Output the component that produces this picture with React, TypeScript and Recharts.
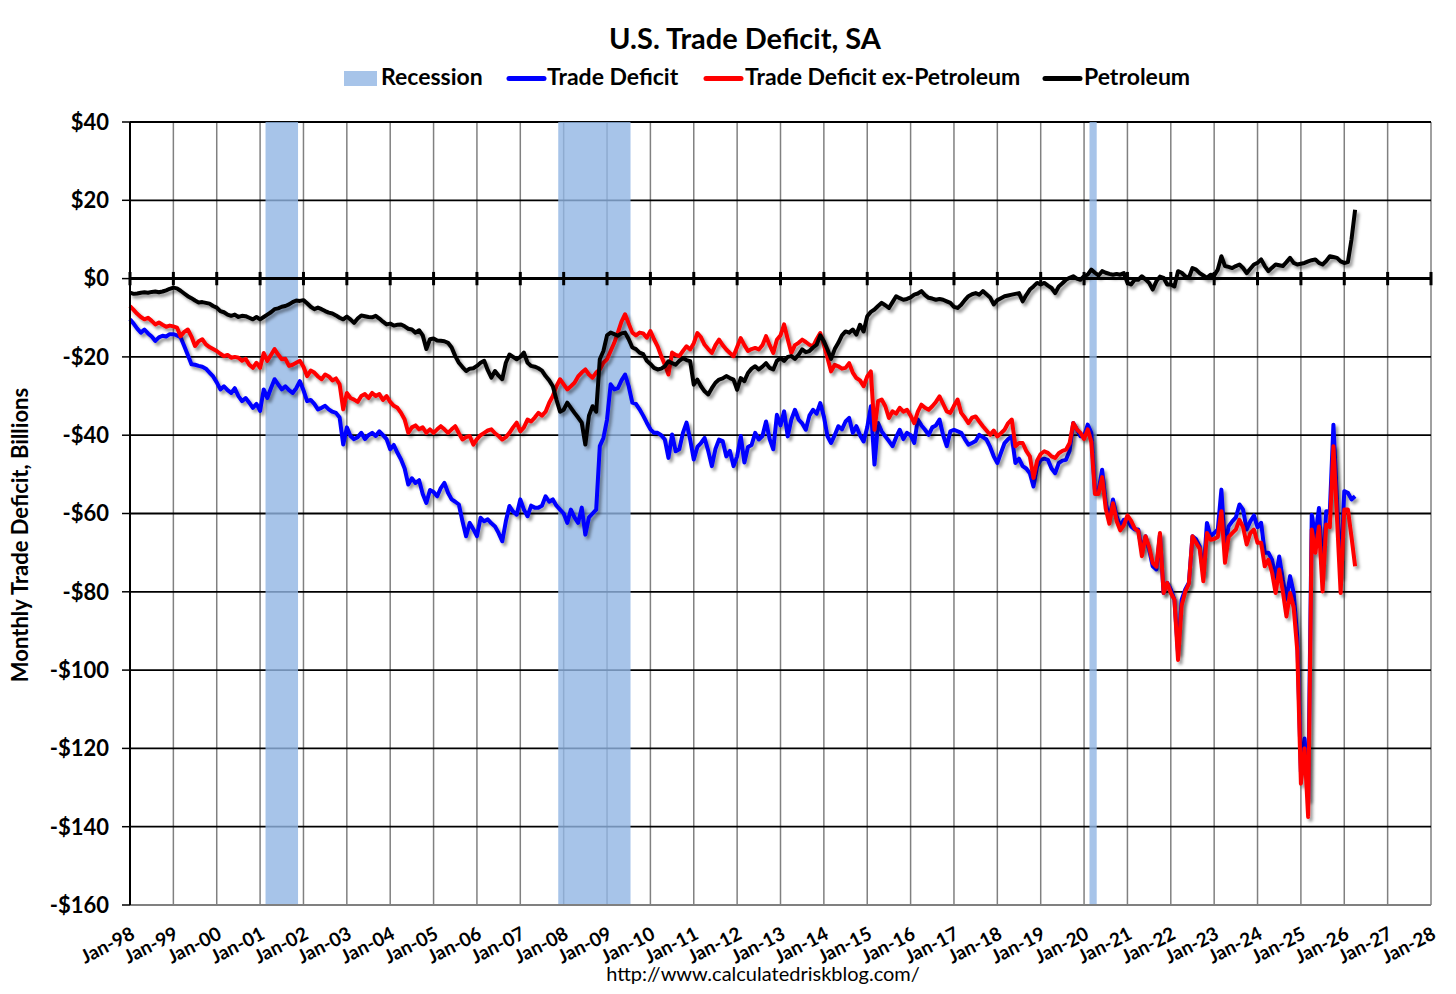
import React from "react";
import {
  CartesianGrid,
  Line,
  LineChart,
  ReferenceArea,
  ReferenceLine,
  XAxis,
  YAxis,
} from "recharts";

const FONT = 'Lato, "Open Sans", sans-serif';

// x axis: one tick per January, month index 0 = Jan-98
const xTickLabels = [
  "Jan-98", "Jan-99", "Jan-00", "Jan-01", "Jan-02", "Jan-03", "Jan-04", "Jan-05",
  "Jan-06", "Jan-07", "Jan-08", "Jan-09", "Jan-10", "Jan-11", "Jan-12", "Jan-13",
  "Jan-14", "Jan-15", "Jan-16", "Jan-17", "Jan-18", "Jan-19", "Jan-20", "Jan-21",
  "Jan-22", "Jan-23", "Jan-24", "Jan-25", "Jan-26", "Jan-27", "Jan-28",
];

const yTicks = [-160, -140, -120, -100, -80, -60, -40, -20, 0, 20, 40];

// recession periods in month index (band covers whole months)
const recessions = [
  { start: 37.5, end: 46.5 }, // Mar-01 .. Nov-01
  { start: 118.5, end: 138.5 }, // Dec-07 .. Jul-09
  { start: 265.5, end: 267.5 }, // Mar-20 .. Apr-20
];

// monthly values, $ billions, one row per year (Jan..Dec)
const tradeDeficit = [
  -10.4, -11.5, -12.8, -13.8, -13.0, -14.0, -14.8, -15.9, -15.0, -14.6, -14.8, -14.2,
  -14.2, -14.5, -15.0, -17.2, -19.5, -21.9, -22.0, -22.3, -22.5, -23.0, -24.0, -25.0,
  -26.5, -28.3, -27.5, -28.5, -29.2, -28.0, -30.0, -31.3, -30.5, -31.7, -33.0, -32.0,
  -33.8, -28.3, -30.5, -28.0, -25.7, -27.0, -28.3, -27.5, -28.5, -29.2, -28.0, -26.2,
  -28.5, -31.3, -31.0, -32.0, -33.4, -33.0, -32.5, -33.4, -34.0, -34.3, -35.5, -42.4,
  -38.0, -40.2, -41.0, -40.5, -39.4, -41.0, -40.0, -39.4, -40.2, -39.0, -40.0, -41.0,
  -43.6, -42.5, -44.5, -46.2, -48.5, -52.6, -51.0, -52.2, -51.5, -55.0, -57.3, -54.0,
  -54.5, -55.6, -53.5, -52.2, -54.7, -56.4, -57.0, -57.7, -62.0, -65.8, -62.4, -64.0,
  -65.8, -61.1, -62.0, -61.5, -62.5, -63.3, -65.0, -67.1, -62.0, -58.1, -59.5, -60.3,
  -56.4, -59.0, -60.7, -58.0, -58.5, -58.5, -58.0, -55.6, -57.0, -56.4, -58.0, -59.0,
  -60.0, -62.4, -59.0, -61.0, -62.4, -58.5, -65.4, -61.0, -60.0, -59.0, -42.8, -40.7,
  -36.0, -27.0, -28.3, -28.0, -26.0, -24.5, -27.5, -31.7, -32.0, -33.4, -35.0, -36.8,
  -38.5, -39.4, -39.4, -40.0, -41.1, -45.8, -39.8, -44.1, -43.6, -39.4, -36.8, -41.1,
  -46.2, -43.0, -42.0, -40.7, -44.0, -47.9, -43.5, -41.1, -41.5, -45.4, -44.0, -47.9,
  -45.4, -40.2, -47.0, -43.0, -42.5, -39.4, -41.1, -40.2, -36.5, -41.0, -43.6, -34.8,
  -37.5, -33.9, -40.3, -36.0, -33.5, -36.0, -37.0, -38.6, -35.0, -33.5, -34.5, -31.8,
  -35.2, -40.3, -42.0, -40.0, -37.7, -38.5, -36.5, -35.6, -39.4, -37.7, -40.0, -41.6,
  -38.0, -32.6, -47.5, -36.9, -39.0, -40.3, -41.5, -42.8, -40.5, -38.6, -41.0, -39.4,
  -40.0, -42.0, -36.0, -37.5, -38.6, -39.9, -38.0, -37.5, -36.0, -40.0, -42.8, -39.0,
  -38.6, -39.0, -39.4, -41.0, -42.4, -42.0, -41.5, -39.9, -40.5, -41.1, -43.0, -45.4,
  -47.1, -44.5, -42.0, -41.0, -40.3, -47.1, -46.0, -47.9, -48.5, -49.7, -53.1, -48.0,
  -46.3, -46.0, -46.3, -48.5, -49.7, -47.1, -46.5, -46.3, -44.0, -36.9, -38.5, -40.3,
  -40.3, -37.3, -39.4, -53.9, -54.3, -48.8, -57.3, -61.6, -56.4, -60.7, -63.3, -61.6,
  -61.6, -63.3, -64.1, -64.1, -69.5, -65.8, -69.2, -73.5, -74.3, -65.4, -80.3, -77.7,
  -79.4, -82.0, -95.5, -82.0, -79.4, -77.7, -65.8, -66.6, -68.4, -75.5, -62.4, -65.8,
  -65.0, -64.1, -53.9, -68.4, -63.3, -62.0, -61.0, -57.7, -59.0, -64.1, -62.0, -60.5,
  -63.5, -62.4, -70.0, -70.0, -71.8, -76.5, -71.0, -76.9, -82.0, -76.0, -80.3, -91.5,
  -126.0, -117.5, -133.0, -60.3, -66.0, -58.6, -76.0, -59.4, -59.5, -37.3, -57.0, -76.0,
  -54.3, -54.7, -56.4, -55.6,
];

const exPetroleum = [
  -7.0, -8.0, -9.0, -9.8, -10.4, -10.0, -10.8, -11.7, -11.2, -11.8, -12.3, -12.0,
  -12.2, -12.5, -14.7, -13.6, -13.0, -14.8, -17.2, -16.0, -15.5, -16.8, -17.5, -18.0,
  -18.5, -19.2, -19.8, -19.5, -20.2, -20.0, -20.2, -21.0, -20.5, -22.0, -22.8, -21.5,
  -22.8, -19.0, -21.0, -19.5, -18.0, -19.4, -20.6, -20.5, -22.3, -22.0, -21.5, -21.0,
  -22.5, -24.9, -23.5, -24.0, -25.0, -25.7, -24.5, -25.0, -26.0, -25.5, -27.0, -33.4,
  -29.2, -30.5, -30.9, -31.5, -30.0, -29.5, -30.5, -29.2, -30.0, -29.5, -31.0, -30.0,
  -31.5, -32.5, -33.0, -34.3, -36.0, -39.4, -38.0, -37.5, -38.5, -38.0, -39.4, -38.5,
  -39.4, -38.5, -37.7, -38.5, -39.4, -38.5, -37.7, -39.5, -41.1, -40.5, -40.2, -42.4,
  -41.0, -40.0, -39.4, -38.8, -38.5, -39.5, -40.2, -41.1, -40.5, -39.4, -38.0, -36.8,
  -39.0, -38.0, -36.0, -36.5, -35.5, -34.3, -35.0, -34.0, -31.7, -30.0, -27.5, -25.7,
  -27.0, -28.3, -27.5, -26.6, -25.0, -24.0, -23.2, -24.5, -25.3, -24.0, -23.2, -21.5,
  -20.6, -18.5, -16.4, -13.8, -11.0, -9.1, -11.5, -13.8, -14.5, -13.8, -14.0, -15.1,
  -13.4, -15.5, -17.3, -19.8, -22.0, -24.5, -18.9, -19.5, -19.8, -18.5, -17.3, -18.1,
  -16.5, -13.9, -15.0, -16.9, -18.0, -19.0, -17.0, -15.6, -17.0, -18.1, -19.0, -19.8,
  -17.5, -15.2, -17.0, -18.5, -18.0, -17.7, -18.1, -17.0, -14.7, -17.0, -19.0, -15.6,
  -14.5, -11.7, -15.5, -19.0, -17.0, -16.4, -15.6, -16.2, -16.9, -17.3, -15.5, -13.9,
  -16.9, -20.3, -23.7, -22.0, -22.4, -23.0, -22.8, -21.6, -24.0, -25.4, -26.0, -27.5,
  -25.0, -23.7, -38.6, -31.3, -30.9, -32.6, -35.6, -33.9, -34.5, -33.0, -34.0, -33.5,
  -35.0, -36.9, -34.0, -32.2, -33.0, -33.5, -32.6, -31.5, -30.1, -32.0, -33.9, -34.3,
  -32.5, -30.9, -34.3, -35.5, -36.9, -35.5, -35.2, -36.5, -37.7, -38.8, -39.9, -38.8,
  -40.3, -39.5, -38.6, -36.9, -36.0, -42.8, -42.0, -42.0, -44.0, -45.4, -50.9, -46.5,
  -44.8, -44.1, -44.5, -45.4, -45.8, -44.6, -44.0, -43.7, -42.0, -36.9, -38.5, -39.4,
  -41.0, -38.5, -41.7, -55.0, -55.0, -50.7, -58.8, -62.6, -57.4, -61.9, -64.3, -63.0,
  -60.5, -61.8, -63.8, -64.5, -70.9, -65.8, -68.5, -72.6, -73.6, -65.0, -80.3, -77.7,
  -80.3, -82.0, -97.4, -83.5, -80.0, -77.9, -65.8, -67.5, -69.0, -77.3, -65.0, -66.7,
  -66.5, -66.0, -59.4, -72.6, -66.0, -65.0, -64.1, -61.6, -63.5, -67.9, -65.0, -64.1,
  -67.5, -67.5, -73.5, -71.8, -75.0, -80.3, -74.3, -80.0, -86.3, -80.3, -84.0, -95.0,
  -129.0, -120.0, -137.5, -64.1, -70.0, -63.3, -79.9, -62.8, -63.5, -42.8, -61.5, -80.3,
  -59.0, -59.0, -66.0, -73.5,
];

const petroleum = [
  -3.6, -3.9, -3.8, -3.6, -3.5, -3.6, -3.4, -3.3, -3.5, -3.3, -3.0, -2.6,
  -2.3, -2.5, -3.1, -3.8, -4.5, -5.0, -5.6, -6.1, -6.0, -6.2, -6.4, -7.0,
  -7.4, -8.3, -8.6, -9.2, -9.5, -9.2, -9.8, -9.5, -9.6, -10.0, -10.4, -9.8,
  -10.4, -9.8, -9.2, -8.6, -7.8, -7.6, -7.2, -7.0, -6.6, -6.0, -5.6, -5.7,
  -5.5, -6.3, -7.2, -7.8, -7.4, -7.8, -8.3, -8.7, -8.9, -9.4, -10.0, -10.4,
  -9.7, -10.4, -11.3, -10.2, -9.4, -9.6, -9.8, -9.9, -9.5, -10.2, -11.0, -11.7,
  -11.5, -12.0, -11.8, -11.7, -12.2, -12.8, -13.0, -13.8, -13.2, -14.5, -18.0, -15.5,
  -15.3, -15.8, -15.9, -16.0, -16.4, -17.6, -19.8, -21.5, -22.6, -23.6, -23.0, -22.9,
  -22.3, -21.5, -21.0, -23.4, -25.3, -23.6, -24.8, -25.7, -21.5, -19.4, -20.0, -20.6,
  -20.0, -18.9, -21.5, -22.3, -22.5, -22.9, -23.5, -24.9, -26.0, -27.5, -30.9, -34.0,
  -33.5, -31.7, -33.0, -34.3, -35.5, -36.8, -42.4, -35.0, -32.6, -34.0, -20.6, -18.5,
  -14.5, -13.8, -14.2, -14.6, -14.0, -13.8, -15.5, -17.6, -18.0, -18.9, -19.3, -21.0,
  -21.8, -22.8, -23.2, -23.0, -22.4, -21.1, -21.6, -22.0, -21.0, -20.3, -20.8, -21.1,
  -27.1, -25.8, -27.5, -28.8, -29.6, -28.0, -26.6, -25.8, -25.5, -24.9, -25.4, -25.8,
  -28.4, -25.4, -26.2, -24.1, -23.0, -22.4, -23.2, -22.5, -21.6, -22.8, -23.2, -21.0,
  -20.3, -21.0, -20.0, -19.8, -20.5, -19.5, -18.1, -18.8, -18.5, -17.6, -16.9, -14.5,
  -16.0, -18.1, -20.5, -18.0, -16.4, -14.5, -13.5, -13.8, -13.0, -14.3, -11.8, -13.5,
  -9.6, -8.5, -7.9, -7.0, -6.2, -6.8, -7.5, -6.0, -4.5, -5.0, -5.4, -5.2,
  -4.8, -4.1, -3.8, -3.2, -4.2, -4.9, -5.1, -5.4, -5.2, -5.4, -5.8, -6.2,
  -7.2, -7.5, -6.7, -5.5, -4.5, -4.0, -3.7, -4.1, -3.2, -4.0, -4.8, -6.6,
  -5.5, -5.0, -4.5, -4.3, -4.1, -3.9, -3.7, -5.8, -4.2, -2.8, -2.0, -1.1,
  -1.5, -1.1, -1.8, -2.4, -3.7, -2.0, -1.2, -0.3, 0.2, 0.6, 0.0, -0.3,
  0.6, 1.0, 2.3, 1.5, 0.8, 1.9, 1.5, 1.2, 1.0, 1.2, 1.0, 1.4,
  -1.1, -1.5, -0.3, -0.3, 0.6, -0.2, -1.1, -2.8, -0.7, 0.5, 0.2, -1.5,
  -1.5, -2.0, 1.9, 1.5, 0.6, 0.2, 2.7, 2.3, 1.4, 0.8, 0.2, 1.0,
  0.8, 2.3, 5.7, 3.2, 3.0, 2.7, 3.2, 3.6, 2.7, 1.4, 2.5, 3.6,
  4.0, 4.9, 3.2, 1.9, 2.8, 3.6, 3.4, 3.2, 4.2, 5.3, 4.0, 3.6,
  3.8, 4.0, 4.4, 4.7, 4.9, 4.0, 3.6, 4.5, 5.7, 5.5, 5.3, 4.4,
  4.0, 4.2, 10.0, 17.6,
];

const series = [
  { key: "trade", name: "Trade Deficit", color: "#0000FF" },
  { key: "exPet", name: "Trade Deficit ex-Petroleum", color: "#FF0000" },
  { key: "pet", name: "Petroleum", color: "#000000" },
];

const data = tradeDeficit.map((v, i) => ({
  m: i,
  trade: v,
  exPet: exPetroleum[i],
  pet: petroleum[i],
}));

const xTicks = xTickLabels.map((_, i) => i * 12);

const formatDollar = (v: number) => (v < 0 ? `-$${-v}` : `$${v}`);

const XTick = ({ x, y, payload }: any) => {
  const label = xTickLabels[Math.round(payload.value / 12)];
  const ax = x + 6;
  const ay = y + 25;
  return (
    <text
      x={ax}
      y={ay}
      transform={`rotate(-27 ${ax} ${ay})`}
      textAnchor="end"
      fontFamily={FONT}
      fontSize={19}
      fontWeight={700}
      fill="#000"
    >
      {label}
    </text>
  );
};

// legend layout (x of swatch start, x of text start)
const legendLayout = [
  { swatch: 344, text: 381 },
  { swatch: 509, text: 547 },
  { swatch: 706, text: 745 },
  { swatch: 1045, text: 1084 },
];

const Overlay = () => (
  <svg
    width={1456}
    height={994}
    style={{ position: "absolute", left: 0, top: 0, pointerEvents: "none" }}
  >
    <text x={745} y={49} textAnchor="middle" fontFamily={FONT} fontSize={29} fontWeight={700}>
      U.S. Trade Deficit, SA
    </text>

    <rect x={legendLayout[0].swatch} y={71} width={33} height={15} fill="#A7C4E9" />
    <text x={legendLayout[0].text} y={85} fontFamily={FONT} fontSize={23} fontWeight={700}>
      Recession
    </text>
    {series.map((s, i) => {
      const pos = legendLayout[i + 1];
      return (
        <g key={s.key}>
          <line
            x1={pos.swatch}
            x2={pos.swatch + 35}
            y1={78.5}
            y2={78.5}
            stroke={s.color}
            strokeWidth={5}
            strokeLinecap="round"
          />
          <text x={pos.text} y={85} fontFamily={FONT} fontSize={23} fontWeight={700}>
            {s.name}
          </text>
        </g>
      );
    })}

    <text
      transform="translate(28 535) rotate(-90)"
      textAnchor="middle"
      fontFamily={FONT}
      fontSize={22}
      fontWeight={700}
    >
      Monthly Trade Deficit, Billions
    </text>

    <text x={763} y={981} textAnchor="middle" fontFamily={FONT} fontSize={20}>
      http://www.calculatedriskblog.com/
    </text>
  </svg>
);

export default function App() {
  return (
    <div
      style={{
        position: "absolute",
        left: 0,
        top: 0,
        width: 1456,
        height: 994,
        background: "#fff",
        fontFamily: FONT,
      }}
    >
      {/* Excel-style soft shadow under the series lines */}
      <style>{`.recharts-line-curve { filter: url(#lineShadow); }`}</style>
      <LineChart
        width={1456}
        height={994}
        data={data}
        margin={{ top: 122, right: 25, bottom: 29, left: 60 }}
      >
        <defs>
          <filter
            id="lineShadow"
            filterUnits="userSpaceOnUse"
            x={0}
            y={0}
            width={1456}
            height={994}
          >
            <feDropShadow dx={2.5} dy={3} stdDeviation={1.4} floodColor="#000" floodOpacity={0.4} />
          </filter>
        </defs>
        <CartesianGrid horizontal={false} stroke="#808080" strokeWidth={1.5} />
        <CartesianGrid vertical={false} stroke="#000" strokeWidth={1.8} />
        {recessions.map((r) => (
          <ReferenceArea
            key={r.start}
            x1={r.start}
            x2={r.end}
            y1={-160}
            y2={40}
            fill="#91B5E3"
            fillOpacity={0.8}
            stroke="none"
          />
        ))}
        <XAxis
          dataKey="m"
          type="number"
          domain={[0, 360]}
          ticks={xTicks}
          interval={0}
          height={60}
          tickLine={false}
          tickSize={8}
          tickMargin={0}
          axisLine={{ stroke: "#808080", strokeWidth: 2 }}
          tick={<XTick />}
        />
        <YAxis
          type="number"
          domain={[-160, 40]}
          ticks={yTicks}
          interval={0}
          width={70}
          tickSize={8}
          tickMargin={13}
          tickFormatter={formatDollar}
          tickLine={{ stroke: "#000", strokeWidth: 1.5 }}
          axisLine={{ stroke: "#000", strokeWidth: 2 }}
          tick={{ fontFamily: FONT, fontSize: 22, fontWeight: 700, fill: "#000" }}
        />
        <ReferenceLine y={0} stroke="#000" strokeWidth={3} />
        {xTicks.map((t) => (
          <ReferenceLine
            key={`zt-${t}`}
            segment={[
              { x: t, y: -1.7 },
              { x: t, y: 1.7 },
            ]}
            stroke="#000"
            strokeWidth={3}
          />
        ))}
        {series.map((s) => (
          <Line
            key={s.key}
            type="linear"
            dataKey={s.key}
            name={s.name}
            stroke={s.color}
            strokeWidth={4}
            strokeLinejoin="round"
            dot={false}
            activeDot={false}
            isAnimationActive={false}
          />
        ))}
      </LineChart>
      <Overlay />
    </div>
  );
}
